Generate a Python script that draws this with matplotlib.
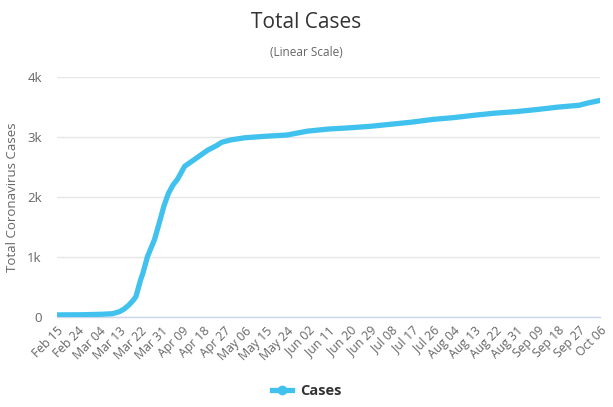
import matplotlib
matplotlib.use("Agg")
import matplotlib.pyplot as plt
from matplotlib.lines import Line2D
import pandas as pd

plt.rcParams['font.family'] = ['Open Sans', 'DejaVu Sans']

# ---- data ----
dates = ["2020-02-15", "2020-02-25", "2020-03-05", "2020-03-10", "2020-03-13",
         "2020-03-15", "2020-03-17", "2020-03-19", "2020-03-20", "2020-03-21",
         "2020-03-22", "2020-03-23", "2020-03-25", "2020-03-28", "2020-03-30",
         "2020-04-01", "2020-04-03", "2020-04-05", "2020-04-07", "2020-04-10",
         "2020-04-15", "2020-04-20", "2020-04-24", "2020-04-26", "2020-04-30",
         "2020-05-06", "2020-05-15", "2020-05-24", "2020-06-02", "2020-06-11",
         "2020-06-20", "2020-06-29", "2020-07-08", "2020-07-17", "2020-07-26",
         "2020-08-04", "2020-08-13", "2020-08-22", "2020-08-31", "2020-09-09",
         "2020-09-18", "2020-09-27", "2020-10-01", "2020-10-06"]
cases = [40, 42, 50, 60, 95,
         140, 205, 290, 343, 480,
         620, 730, 1010, 1290, 1560,
         1840, 2060, 2200, 2300, 2510,
         2645, 2780, 2860, 2910, 2950,
         2985, 3010, 3030, 3095, 3130,
         3150, 3175, 3210, 3245, 3290,
         3320, 3360, 3395, 3420, 3455,
         3495, 3525, 3565, 3605]

start_date = "2020-02-15"
x_tick_labels = ["Feb 15", "Feb 24", "Mar 04", "Mar 13", "Mar 22", "Mar 31",
                 "Apr 09", "Apr 18", "Apr 27", "May 06", "May 15", "May 24",
                 "Jun 02", "Jun 11", "Jun 20", "Jun 29", "Jul 08", "Jul 17",
                 "Jul 26", "Aug 04", "Aug 13", "Aug 22", "Aug 31", "Sep 09",
                 "Sep 18", "Sep 27", "Oct 06"]
y_ticks = [0, 1000, 2000, 3000, 4000]
y_tick_labels = ["0", "1k", "2k", "3k", "4k"]

# ---- derived positions ----
t0 = pd.Timestamp(start_date)
days = [(pd.Timestamp(d) - t0).days for d in dates]
tick_days = [(pd.Timestamp(f"{lbl} 2020") - t0).days for lbl in x_tick_labels]

line_color = "#41c2ee"
text_gray = "#666666"

fig = plt.figure(figsize=(6.13, 4.07), dpi=100)
ax = fig.add_axes([57 / 613, 1 - 317.3 / 407, (600 - 57) / 613, (317.3 - 76.7) / 407])

ax.plot(days, cases, color=line_color, linewidth=3.8, solid_capstyle='round',
        solid_joinstyle='round', zorder=3)

ax.set_xlim(0, tick_days[-1])
ax.set_ylim(0, 4000)

ax.set_yticks(y_ticks)
ax.set_yticklabels(y_tick_labels, color=text_gray, fontsize=9.5)
ax.set_xticks(tick_days)
ax.set_xticklabels(x_tick_labels, rotation=45, ha='right', rotation_mode='anchor',
                   color=text_gray, fontsize=8.8)

ax.tick_params(axis='both', length=0)
ax.tick_params(axis='y', pad=11)
ax.tick_params(axis='x', pad=5)

ax.grid(axis='y', color='#e6e6e6', linewidth=1)
ax.set_axisbelow(True)
for s in ['top', 'right', 'left']:
    ax.spines[s].set_visible(False)
ax.spines['bottom'].set_color('#ccd6eb')
ax.spines['bottom'].set_linewidth(1)

fig.text(13 / 613, 1 - 197 / 407, "Total Coronavirus Cases", rotation=90,
         ha='center', va='center', color=text_gray, fontsize=9.5)

fig.text(0.5, 1 - 22 / 407, "Total Cases", ha='center', va='center',
         fontsize=15, color='#333333')
fig.text(0.5, 1 - 52 / 407, "(Linear Scale)", ha='center', va='center',
         fontsize=8.5, color=text_gray)

handle = Line2D([0], [0], color=line_color, linewidth=3.8, marker='o',
                markersize=6, markerfacecolor=line_color, markeredgecolor=line_color)
leg = fig.legend([handle], ["Cases"], loc='center', bbox_to_anchor=(0.5, 1 - 391 / 407),
                 frameon=False, handlelength=1.4, handletextpad=0.5,
                 prop={'weight': 'bold', 'size': 10.5})
for t in leg.get_texts():
    t.set_color('#333333')

fig.savefig("out.png", dpi=100)
